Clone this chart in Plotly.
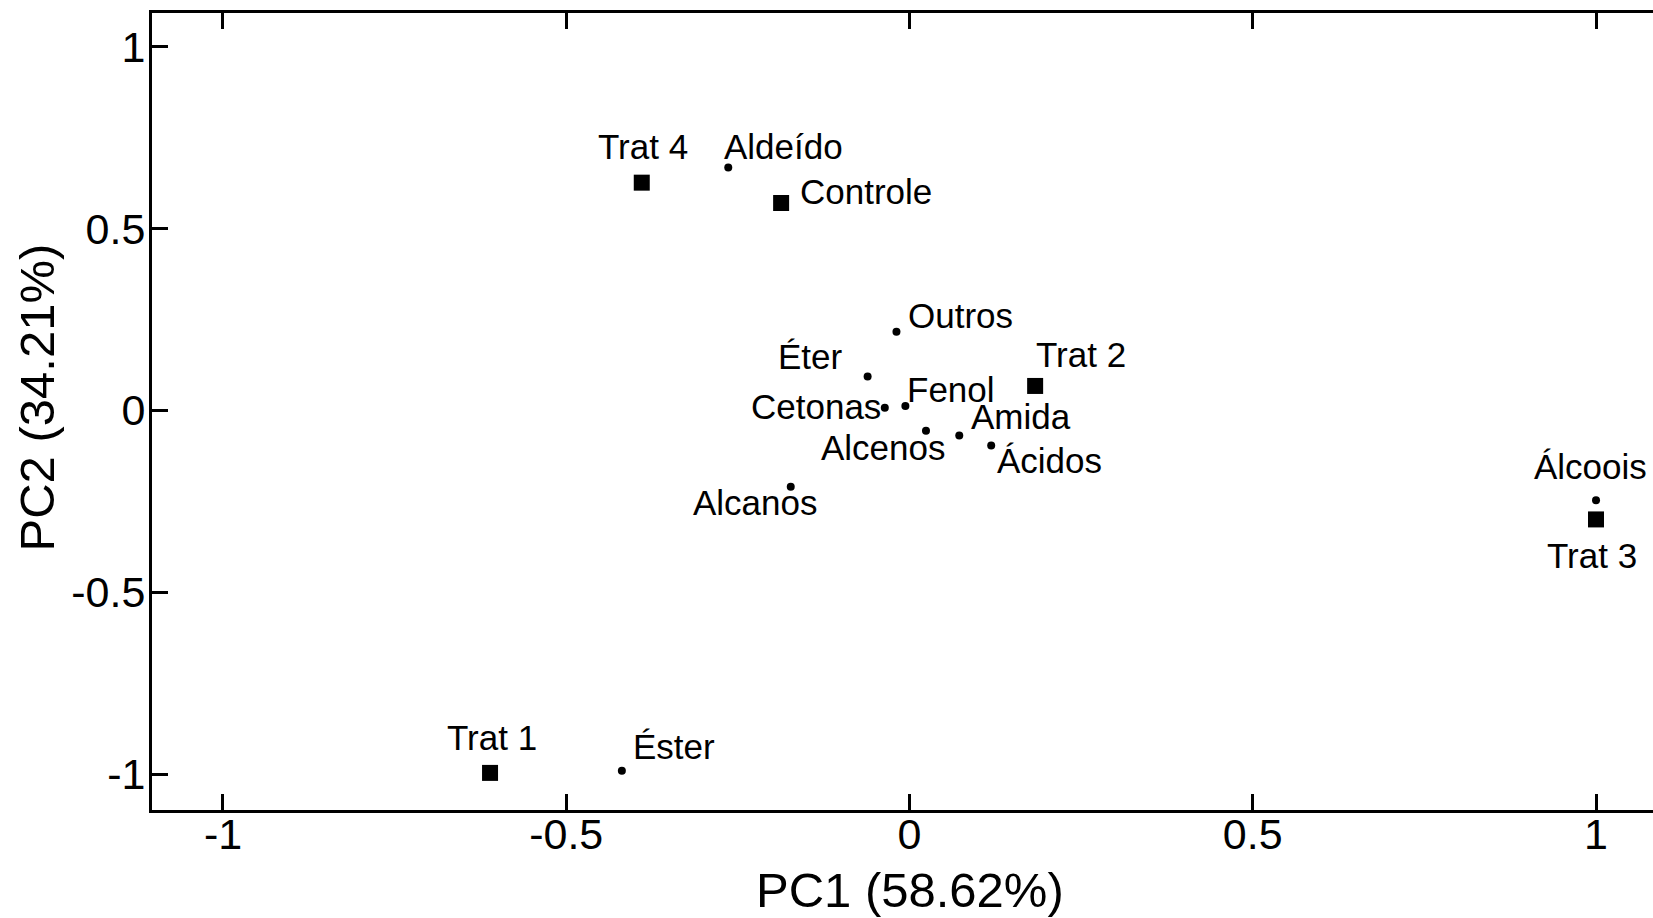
import plotly.graph_objects as go

# Treatments (squares)
trat_names = ["Controle", "Trat 1", "Trat 2", "Trat 3", "Trat 4"]
trat_pc1 = [-0.187, -0.611, 0.183, 1.000, -0.390]
trat_pc2 = [0.570, -0.997, 0.067, -0.300, 0.626]

# Variables (dots)
var_names = ["Aldeído", "Outros", "Éter", "Cetonas", "Fenol", "Alcenos",
             "Amida", "Ácidos", "Alcanos", "Éster", "Álcoois"]
var_pc1 = [-0.264, -0.019, -0.061, -0.036, -0.006, 0.024,
           0.0725, 0.119, -0.173, -0.419, 1.000]
var_pc2 = [0.668, 0.216, 0.093, 0.007, 0.012, -0.056,
           -0.069, -0.097, -0.210, -0.991, -0.247]

tick_vals = [-1, -0.5, 0, 0.5, 1]
tick_text = ["-1", "-0.5", "0", "0.5", "1"]

x_title = "PC1 (58.62%)"
y_title = "PC2 (34.21%)"

# label offsets in pixels (xshift, yshift) relative to the point
label_offsets = {
    "Controle": (85, 12), "Trat 1": (2, 35), "Trat 2": (46, 31),
    "Trat 3": (-4, -36.5), "Trat 4": (1, 36.5),
    "Aldeído": (55, 21), "Outros": (64, 16), "Éter": (-57, 20),
    "Cetonas": (-69, 1), "Fenol": (46, 16), "Alcenos": (-42, -17),
    "Amida": (62, 19), "Ácidos": (58.5, -15), "Alcanos": (-35, -16),
    "Éster": (52, 24), "Álcoois": (-6, 33.5),
}

FONT = "Liberation Sans, Arial, sans-serif"

fig = go.Figure()
fig.add_trace(go.Scatter(
    x=trat_pc1, y=trat_pc2, mode="markers", name="Tratamentos",
    marker=dict(symbol="square", size=16, color="black"),
    cliponaxis=False,
))
fig.add_trace(go.Scatter(
    x=var_pc1, y=var_pc2, mode="markers", name="Compostos",
    marker=dict(symbol="circle", size=8, color="black"),
    cliponaxis=False,
))

annotations = []
for names, xs, ys in ((trat_names, trat_pc1, trat_pc2), (var_names, var_pc1, var_pc2)):
    for n, xv, yv in zip(names, xs, ys):
        dx, dy = label_offsets[n]
        annotations.append(dict(
            x=xv, y=yv, xref="x", yref="y", text=n, showarrow=False,
            xanchor="center", yanchor="middle", xshift=dx, yshift=dy,
            font=dict(family=FONT, size=35, color="black"),
        ))

# axis titles
annotations.append(dict(
    x=0, y=0, xref="x", yref="paper", text=x_title, showarrow=False,
    xanchor="center", yanchor="middle", yshift=-80,
    font=dict(family=FONT, size=49, color="black"),
))
annotations.append(dict(
    x=0, y=0.517, xref="paper", yref="paper", text=y_title, showarrow=False,
    xanchor="center", yanchor="middle", xshift=-115.5, textangle=-90,
    font=dict(family=FONT, size=49, color="black"),
))

fig.update_layout(
    width=1653, height=918,
    margin=dict(l=152, r=0, t=13, b=108),
    paper_bgcolor="white", plot_bgcolor="white",
    showlegend=False,
    annotations=annotations,
    font=dict(family=FONT, color="black"),
)
fig.update_xaxes(
    range=[-1.1034, 1.083], tickvals=tick_vals, ticktext=tick_text,
    showgrid=False, zeroline=False,
    showline=True, linecolor="black", linewidth=3, mirror="ticks",
    ticks="inside", ticklen=16, tickwidth=3, tickcolor="black",
    ticklabelstandoff=-16,
    tickfont=dict(family=FONT, size=43, color="black"),
)
fig.update_yaxes(
    range=[-1.099, 1.0925], tickvals=tick_vals, ticktext=tick_text,
    showgrid=False, zeroline=False,
    showline=True, linecolor="black", linewidth=3, mirror=False,
    ticks="inside", ticklen=16, tickwidth=3, tickcolor="black",
    ticklabelstandoff=-5,
    tickfont=dict(family=FONT, size=43, color="black"),
)

fig.write_html("out.html")
